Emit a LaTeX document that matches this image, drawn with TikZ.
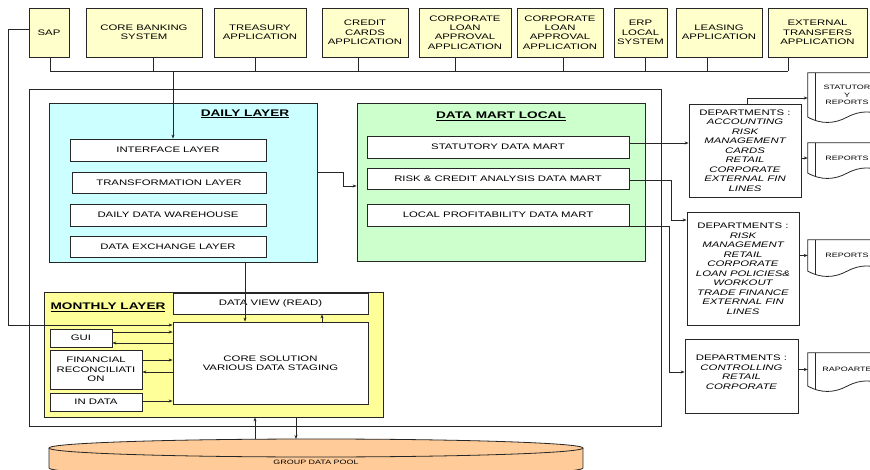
\documentclass[tikz,border=0pt]{standalone}
\usepackage{fontspec}
\setmainfont{Liberation Sans}[FakeStretch=1.42]
\usetikzlibrary{arrows.meta}
\definecolor{topfill}{HTML}{FFFFCC}
\definecolor{dailyfill}{HTML}{CCFFFF}
\definecolor{dmfill}{HTML}{CCFFCC}
\definecolor{mlfill}{HTML}{FFFF99}
\definecolor{poolfill}{HTML}{FFCC99}
\definecolor{edge}{HTML}{262626}
\tikzset{
 ln/.style={draw=edge, line width=0.8pt},
 arr/.style={ln, -{Stealth[length=4pt,width=3pt]}},
 bx/.style={draw=edge, line width=0.8pt, inner sep=0pt, align=center, font=\fontsize{8}{9}\selectfont},
 topbox/.style={bx, fill=topfill, font=\fontsize{8}{9.4}\selectfont},
 inbox/.style={bx, fill=white},
 dept/.style={bx, fill=white, font=\fontsize{8}{9.5}\selectfont\itshape},
 layertitle/.style={inner sep=0pt, font=\fontsize{9.6}{11}\selectfont\bfseries},
 docnode/.style={inner sep=0pt, align=center, minimum width=78pt, font=\fontsize{6.3}{7.5}\selectfont},
}
\newcommand\docsh[1]{%
 \draw[ln] (#1.south west) -- (#1.north west) -- (#1.north east) -- (#1.south east)
   .. controls ([xshift=-13pt,yshift=7pt]#1.south east) and ([xshift=13pt,yshift=7pt]#1.south) .. (#1.south)
   .. controls ([xshift=-13pt,yshift=-7pt]#1.south) and ([xshift=13pt,yshift=-7pt]#1.south west) .. cycle;
 \draw[ln] ([xshift=8pt]#1.north west) -- ([xshift=8pt,yshift=-3pt]#1.south west);
}
\begin{document}
\begin{tikzpicture}[x=1pt,y=-1pt]
\useasboundingbox (0,0) rectangle (870,470);
\fill[white] (0,0) rectangle (870,470);
\clip (0,0) rectangle (870,470);

% top applications
\node[topbox, minimum width=40pt, minimum height=49pt] (sap) at (49,32.5) {SAP};
\node[topbox, minimum width=116pt, minimum height=49pt] (cbs) at (144,32.5) {CORE BANKING\\SYSTEM};
\node[topbox, minimum width=92pt, minimum height=49pt] (tre) at (260,32.5) {TREASURY\\APPLICATION};
\node[topbox, minimum width=86pt, minimum height=49pt] (ccd) at (365,32.5) {CREDIT\\CARDS\\APPLICATION};
\node[topbox, minimum width=92pt, minimum height=49pt] (cl1) at (465,32.5) {CORPORATE\\LOAN\\APPROVAL\\APPLICATION};
\node[topbox, minimum width=86pt, minimum height=49pt] (cl2) at (560,32.5) {CORPORATE\\LOAN\\APPROVAL\\APPLICATION};
\node[topbox, minimum width=53pt, minimum height=49pt] (erp) at (640.5,32.5) {ERP\\LOCAL\\SYSTEM};
\node[topbox, minimum width=86pt, minimum height=49pt] (lea) at (719,32.5) {LEASING\\APPLICATION};
\node[topbox, minimum width=99pt, minimum height=49pt] (ext) at (817.5,32.5) {EXTERNAL\\TRANSFERS\\APPLICATION};

% outer frame
\node[draw=edge, line width=0.8pt, minimum width=632pt, minimum height=337pt, inner sep=0pt] (outer) at (345,257.5) {};

% daily layer
\node[bx, fill=dailyfill, minimum width=268pt, minimum height=159pt] (dl) at (183,182.5) {};
\node[layertitle] (dlt) at (245,114) {\underline{DAILY LAYER}};
\node[inbox, minimum width=196pt, minimum height=22pt] (ifl) at (168,150) {INTERFACE LAYER};
\node[inbox, minimum width=194pt, minimum height=21pt] (trl) at (169,182.5) {TRANSFORMATION LAYER};
\node[inbox, minimum width=196pt, minimum height=22pt] (ddw) at (168,215) {DAILY DATA WAREHOUSE};
\node[inbox, minimum width=196pt, minimum height=21pt] (dex) at (168,246.5) {DATA EXCHANGE LAYER};

% data mart local
\node[bx, fill=dmfill, minimum width=288pt, minimum height=158pt] (dm) at (501,182) {};
\node[layertitle] (dmt) at (501,116) {\underline{DATA MART LOCAL}};
\node[inbox, minimum width=262pt, minimum height=22pt] (sdm) at (498,147) {STATUTORY DATA MART};
\node[inbox, minimum width=262pt, minimum height=21pt] (rdm) at (498,178.5) {RISK \& CREDIT ANALYSIS DATA MART};
\node[inbox, minimum width=262pt, minimum height=22pt] (ldm) at (498,215) {LOCAL PROFITABILITY DATA MART};

% monthly layer
\node[bx, fill=mlfill, minimum width=339pt, minimum height=125pt] (ml) at (213.5,354.5) {};
\node[layertitle] (mlt) at (108,307) {\underline{MONTHLY LAYER}};
\node[inbox, minimum width=195pt, minimum height=21pt] (dv) at (270.5,303.5) {DATA VIEW (READ)};
\node[inbox, minimum width=195pt, minimum height=82pt] (cs) at (270.5,363) {CORE SOLUTION\\VARIOUS DATA STAGING};
\node[inbox, minimum width=62pt, minimum height=18pt] (gui) at (81,338) {GUI};
\node[inbox, minimum width=92pt, minimum height=39pt, font=\fontsize{8}{9.5}\selectfont] (fr) at (96,369.5) {FINANCIAL\\RECONCILIATI\\ON};
\node[inbox, minimum width=92pt, minimum height=18pt] (ind) at (96,402) {IN DATA};

% departments
\node[dept, minimum width=112pt, minimum height=93pt] (d1) at (745,150.5) {\upshape DEPARTMENTS :\\ACCOUNTING\\RISK\\MANAGEMENT\\CARDS\\RETAIL\\CORPORATE\\EXTERNAL FIN\\LINES};
\node[dept, minimum width=112pt, minimum height=113pt] (d2) at (743,268.5) {\upshape DEPARTMENTS :\\RISK\\MANAGEMENT\\RETAIL\\CORPORATE\\LOAN POLICIES\&\\WORKOUT\\TRADE FINANCE\\EXTERNAL FIN\\LINES};
\node[dept, minimum width=113pt, minimum height=74pt] (d3) at (741.5,376) {\upshape DEPARTMENTS :\\CONTROLLING\\RETAIL\\CORPORATE\\[-1.5pt]\mbox{}};

% reports
\node[docnode, minimum height=44pt] (r1) at (847,95) {STATUTOR\\Y\\REPORTS};
\node[docnode, minimum height=30pt] (r2) at (847,158) {REPORTS};
\node[docnode, minimum height=31pt] (r3) at (847,255.5) {REPORTS};
\node[docnode, minimum height=33pt] (r4) at (847,369.5) {RAPOARTE};
\docsh{r1}\docsh{r2}\docsh{r3}\docsh{r4}

% group data pool
\fill[poolfill] (49,448) rectangle (583,468);
\fill[poolfill] (316,468) ellipse [x radius=267, y radius=9];
\draw[ln] (49,448) -- (49,468) arc[start angle=180, end angle=0, x radius=267, y radius=9] -- (583,448);
\draw[ln, fill=poolfill] (316,448) ellipse [x radius=267, y radius=9];
\node[inner sep=0pt, font=\fontsize{6.3}{7.5}\selectfont] (pool) at (316,462) {GROUP DATA POOL};

% bus from applications
\foreach \n/\x in {sap/50,cbs/153,tre/255,ccd/358,cl1/455,cl2/563,erp/645,lea/707,ext/788}{
  \coordinate (b\n) at (\x,71);
  \draw[ln] (\n.south -| b\n) -- (b\n);
}
\draw[ln] (bsap) -- (bext);
\coordinate (tk) at (173,71);
\draw[arr] (tk) -- (tk |- ifl.north);

% SAP to core solution
\coordinate (s1) at (8,29);
\coordinate (s2) at (8,325);
\draw[arr] (sap.west |- s1) -- (s1) -- (s2) -- (cs.west |- s2);

% daily to data mart
\coordinate (j1) at (343,172);
\coordinate (j2) at (343,186);
\draw[arr] (dl.east |- j1) -- (j1) -- (j2) -- (dm.west |- j2);

% daily to core solution, core to data view
\coordinate (v1) at (245,262);
\draw[arr] (dl.south -| v1) -- (cs.north -| v1);
\coordinate (v2) at (322,300);
\draw[arr] (cs.north -| v2) -- (dv.south -| v2);

% monthly small arrows
\coordinate (g1) at (0,332);
\coordinate (g2) at (0,343);
\coordinate (f1) at (0,360);
\coordinate (f2) at (0,372);
\coordinate (i1) at (0,401);
\draw[arr] (gui.east |- g1) -- (cs.west |- g1);
\draw[arr] (cs.west |- g2) -- (gui.east |- g2);
\draw[arr] (fr.east |- f1) -- (cs.west |- f1);
\draw[arr] (cs.west |- f2) -- (fr.east |- f2);
\draw[arr] (ind.east |- i1) -- (cs.west |- i1);

% pool arrows
\coordinate (p1) at (255,439);
\coordinate (p2) at (296,439);
\draw[arr] (p1) -- (ml.south -| p1);
\draw[arr] (ml.south -| p2) -- (p2);

% data marts to departments
\coordinate (h1) at (0,143);
\draw[arr] (sdm.east |- h1) -- (d1.west |- h1);
\coordinate (k1) at (671,180);
\coordinate (k2) at (671,220);
\draw[arr] (rdm.east |- k1) -- (k1) -- (k2) -- (d2.west |- k2);
\coordinate (m1) at (669,226);
\coordinate (m2) at (669,372);
\draw[arr] (ldm.east |- m1) -- (m1) -- (m2) -- (d3.west |- m2);

% departments to reports
\coordinate (t1) at (747,98);
\draw[arr] (d1.north -| t1) -- (t1) -- (r1.west |- t1);
\draw[arr] (d1.east |- r2.west) -- (r2.west);
\draw[arr] (d2.east |- r3.west) -- (r3.west);
\draw[arr] (d3.east |- r4.west) -- (r4.west);
\end{tikzpicture}
\end{document}
